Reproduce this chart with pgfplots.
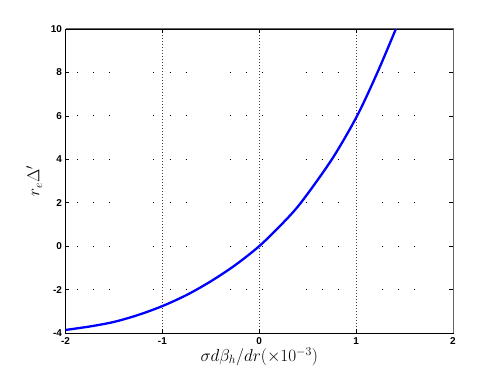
\documentclass[border=0pt]{standalone}
\usepackage{pgfplots}
\pgfplotsset{compat=1.18}
\usepackage{fontspec}
\setmainfont{Liberation Sans}
\begin{document}
\begin{tikzpicture}
\begin{axis}[
  scale only axis,
  width=387.5bp, height=304bp,
  xmin=-2, xmax=2, ymin=-4, ymax=10,
  xtick={-2,-1,0,1,2}, ytick={-4,-2,0,2,4,6,8,10},
  /pgf/number format/assume math mode=true,
  tick label style={font=\fontsize{10}{12}\selectfont\bfseries},
  tick align=inside, major tick length=4bp,
  tick style={black, line width=0.6bp},
  xtick pos=both, ytick pos=both,
  axis line style={black, line width=0.8bp},
  xmajorgrids, ymajorgrids,
  x grid style={black!75, line width=0.6bp, dash pattern=on 0.8bp off 2.2bp},
  y grid style={black, line width=0.8bp, dash pattern=on 1bp off 15bp on 1bp off 15bp on 1bp off 43bp, dash phase=64bp},
  xlabel={$\sigma d\beta_h/dr(\times10^{-3})$},
  ylabel={$r_e\Delta'$},
  label style={font=\fontsize{18}{21}\selectfont},
  xlabel style={yshift=4bp},
  ylabel style={yshift=2bp},
  xticklabel style={yshift=-1bp},
]
\addplot[blue, line width=2.3bp, smooth] coordinates {
(-2,-3.86) (-1.75,-3.70) (-1.5,-3.49) (-1.25,-3.17) (-1,-2.76) (-0.75,-2.25) (-0.5,-1.62) (-0.25,-0.88) (0,0) (0.23,1) (0.43,2) (0.75,4) (1.01,6) (1.22,8) (1.41,10)
};
\coordinate (bl) at (rel axis cs:0,0);
\coordinate (tr) at (rel axis cs:1,1);
\end{axis}
\draw[black!60, line width=1bp] (bl |- tr) -- (tr) -- (tr |- bl);
\path ([shift={(-65.5bp,-42bp)}]bl) rectangle ([shift={(47bp,29bp)}]tr);
\end{tikzpicture}
\end{document}
